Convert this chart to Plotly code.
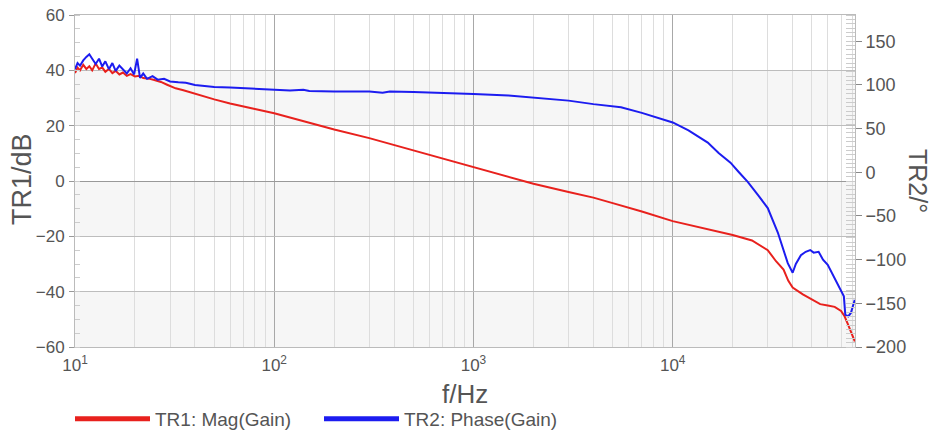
import plotly.graph_objects as go

# --- data ---
mag_freq = [10, 10.3, 10.6, 11, 11.4, 11.8, 12.2, 12.7, 13.2, 13.7, 14.2, 14.8, 15.4, 16, 16.7,
            17.4, 18.2, 19, 20, 21, 22, 23.5, 25, 27, 29, 32, 35, 40, 45, 50, 60, 70, 80, 100,
            150, 200, 300, 400, 500, 700, 1000, 1500, 2000, 3000, 4000, 5000, 7000, 10000,
            15000, 20000, 25000, 30000, 33000, 36000, 38000, 40000, 45000, 50000, 55000,
            60000, 65000, 70000, 73000, 76000, 79000, 82000]
mag_db = [39, 41, 40, 42, 40.5, 41.5, 40, 42.5, 40.5, 41, 39.5, 40.5, 39, 39.8, 38.5,
          39.2, 38, 38.6, 37.8, 38, 37.2, 37, 36.5, 35.8, 34.8, 33.5, 32.8, 31.5, 30.5, 29.5,
          28, 26.8, 26, 24.5, 21, 18.6, 15.5, 13, 11, 8, 5, 1.5, -1, -4, -6, -8, -11, -14.5,
          -17.5, -19.5, -21.5, -25, -29, -32, -36, -38.5, -41, -43, -44.5, -45, -45.5, -47,
          -49, -52, -55, -58]

ph_freq = [10, 10.3, 10.6, 11, 11.4, 11.8, 12.2, 12.7, 13.2, 13.7, 14.2, 14.8, 15.4, 16, 16.7,
           17.4, 18.2, 19, 19.8, 20.5, 21.2, 22, 23, 24.5, 26, 28, 30, 33, 36, 40, 45, 50, 60,
           80, 100, 120, 140, 150, 200, 300, 350, 380, 500, 700, 1000, 1500, 2000, 3000, 4000,
           5500, 7000, 10000, 12000, 15000, 17000, 19500, 21500, 23800, 27000, 30000, 33700,
           37800, 40000, 41500, 44000, 46500, 49000, 51000, 54000, 56800, 60000, 64400, 68000,
           72300, 73500, 76000, 78400, 82000]
ph_deg = [118, 125, 122, 128, 132, 135, 130, 124, 130, 121, 127, 118, 125, 116, 122,
          118, 113, 119, 112, 130, 108, 113, 107, 110, 106, 107, 104, 103, 102.5, 100, 98.5,
          97.5, 97, 95.5, 94.5, 93.5, 94.5, 93, 92.5, 92.5, 91, 92.5, 92, 90.5, 89.5, 88, 85.5,
          82, 78, 74.5, 68, 57, 48, 34, 22, 11, 0, -11, -27, -41, -69, -104, -115, -105, -95,
          -91, -89, -92, -91, -100, -106, -119, -130, -142, -163, -165, -161, -146]

x_tickvals = [10, 100, 1000, 10000]
x_ticktext = ["10<sup>1</sup>", "10<sup>2</sup>", "10<sup>3</sup>", "10<sup>4</sup>"]
left_ticks = [-60, -40, -20, 0, 20, 40, 60]
right_ticks = [-200, -150, -100, -50, 0, 50, 100, 150]
band_ranges = [(20, 40), (-20, 0), (-60, -40)]

RED = "#e8211d"
BLUE = "#1c1cf0"
TXT = "#555555"

fig = go.Figure()
fig.add_trace(go.Scatter(x=mag_freq, y=mag_db, mode="lines", name="TR1: Mag(Gain)",
                         line=dict(color=RED, width=2), yaxis="y", showlegend=False))
fig.add_trace(go.Scatter(x=ph_freq, y=ph_deg, mode="lines", name="TR2: Phase(Gain)",
                         line=dict(color=BLUE, width=2), yaxis="y2", showlegend=False))
# legend entries (thicker swatches, as in the reference)
fig.add_trace(go.Scatter(x=[None], y=[None], mode="lines", name="TR1: Mag(Gain)",
                         line=dict(color=RED, width=5), yaxis="y"))
fig.add_trace(go.Scatter(x=[None], y=[None], mode="lines", name="TR2: Phase(Gain)",
                         line=dict(color=BLUE, width=5), yaxis="y2"))

shapes = []
for lo, hi in band_ranges:
    shapes.append(dict(type="rect", xref="paper", yref="y", x0=0, x1=1, y0=lo, y1=hi,
                       fillcolor="#f6f6f6", line=dict(width=0), layer="below"))

# the page body adds an 8px margin, so the figure is 16px smaller than the window
FW, FH = 925, 422
fig.update_layout(
    width=FW, height=FH,
    margin=dict(l=67, r=78, t=7, b=83),
    paper_bgcolor="white", plot_bgcolor="white",
    font=dict(family="Liberation Sans, Arial, sans-serif", color=TXT),
    shapes=shapes,
    showlegend=True,
    legend=dict(orientation="h", x=62 / FW, y=11 / FH, xref="container", yref="container",
                xanchor="left", yanchor="middle", itemwidth=75, entrywidth=159,
                entrywidthmode="pixels",
                font=dict(size=19, color=TXT), traceorder="normal"),
    xaxis=dict(type="log", range=[1, 4.915], tickvals=x_tickvals, ticktext=x_ticktext,
               showgrid=True, gridcolor="#a8a8a8", gridwidth=1, automargin=False,
               minor=dict(dtick="D1", showgrid=True, gridcolor="#dddddd", gridwidth=1),
               showline=True, linecolor="#bbbbbb", mirror=True,
               ticks="", tickfont=dict(size=17, color=TXT), ticklabelstandoff=3,
               zeroline=False),
    yaxis=dict(range=[-60, 60], tickvals=left_ticks, showgrid=True, gridcolor="#bdbdbd",
               zeroline=True, zerolinecolor="#999999", zerolinewidth=1, automargin=False,
               showline=True, linecolor="#bbbbbb", ticklabeloverflow="allow",
               ticks="outside", ticklen=5, tickcolor="#999999",
               tickfont=dict(size=17, color=TXT), ticklabelstandoff=1,
               minor=dict(dtick=5, ticks="inside", ticklen=5, tickcolor="#cccccc", showgrid=False)),
    yaxis2=dict(range=[-200, 180], tickvals=right_ticks, overlaying="y", side="right",
                showgrid=False, zeroline=False, showline=True, linecolor="#bbbbbb",
                ticks="outside", ticklen=6, tickcolor="#888888", automargin=False,
                tickfont=dict(size=18, color=TXT), ticklabeloverflow="allow",
                minor=dict(dtick=5, ticks="inside", ticklen=9, tickcolor="#cccccc", showgrid=False)),
    annotations=[
        dict(text="f/Hz", xref="paper", yref="paper", x=(465 - 75) / 780, y=(347 - 394) / 332,
             xanchor="center", yanchor="middle", showarrow=False,
             font=dict(size=26, color=TXT)),
        dict(text="TR1/dB", xref="paper", yref="paper", x=(22 - 75) / 780, y=(347 - 179) / 332,
             xanchor="center", yanchor="middle", textangle=-90, showarrow=False,
             font=dict(size=27, color=TXT)),
        dict(text="TR2/°", xref="paper", yref="paper", x=(918 - 75) / 780, y=(347 - 181) / 332,
             xanchor="center", yanchor="middle", textangle=90, showarrow=False,
             font=dict(size=25, color=TXT)),
    ],
)

fig.write_html("out.html")
